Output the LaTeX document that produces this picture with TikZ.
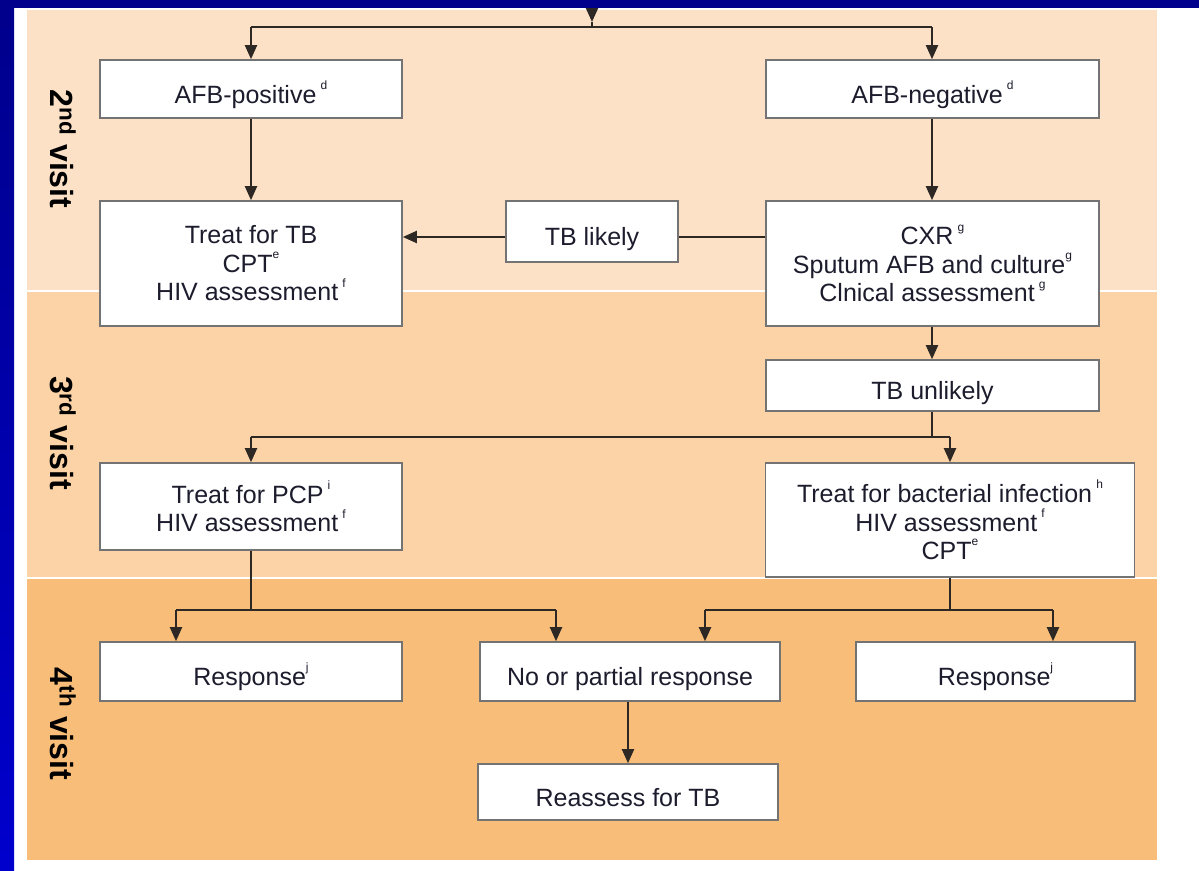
\documentclass[tikz,border=0pt]{standalone}
\usepackage{fontspec}
\setmainfont{Liberation Sans}
\usetikzlibrary{arrows.meta}
\definecolor{navy}{RGB}{0,0,140}
\definecolor{blueside}{RGB}{0,0,205}
\definecolor{bandA}{RGB}{252,225,198}
\definecolor{bandB}{RGB}{251,211,167}
\definecolor{bandC}{RGB}{248,190,121}
\definecolor{txt}{RGB}{28,28,45}
\definecolor{boxline}{RGB}{115,115,115}
\definecolor{conn}{RGB}{45,40,35}
\newcommand\supmark[1]{\raisebox{0.55em}{\fontsize{12}{12}\selectfont #1}}
\begin{document}
\begin{tikzpicture}[x=1pt,y=-1pt,
  box/.style={draw=boxline, line width=1.6pt, fill=white, inner sep=0pt,
    align=center, text=txt, font=\fontsize{25}{28.5}\selectfont},
  single/.style={text height=28pt, text depth=0pt},
  visit/.style={rotate=-90, text=black, font=\bfseries\fontsize{32}{32}\selectfont},
  conn/.style={draw=conn, line width=2pt},
  arr/.style={conn, -{Triangle[width=12pt,length=14pt]}}]
\useasboundingbox (0,0) rectangle (1199,870);
\fill[white] (0,0) rectangle (1199,870);
\fill[navy] (0,0) rectangle (1199,8);
\shade[top color=navy, bottom color=blueside] (0,8) rectangle (14,870);
\fill[bandA] (27,10) rectangle (1157,290);
\fill[bandB] (27,292) rectangle (1157,577);
\fill[bandC] (27,579) rectangle (1157,860);
% visit labels
\node[visit] (v2) at (63,149) {2\textsuperscript{nd} visit};
\node[visit] (v3) at (63,433) {3\textsuperscript{rd} visit};
\node[visit] (v4) at (63,724) {4\textsuperscript{th} visit};
% boxes
\node[box, single, minimum width=302pt, minimum height=58pt] (afbp) at (251,89) {AFB-positive\,\supmark{d}};
\node[box, single, minimum width=333pt, minimum height=58pt] (afbn) at (932.5,89) {AFB-negative\,\supmark{d}};
\node[box, minimum width=302pt, minimum height=125pt] (ttb) at (251,263.5) {Treat for TB\\CPT\supmark{e}\\HIV assessment\,\supmark{f}};
\node[box, single, minimum width=172pt, minimum height=61pt] (tbl) at (592,231.5) {TB likely};
\node[box, minimum width=333pt, minimum height=125pt] (cxr) at (932.5,263.5) {CXR\,\supmark{g}\\Sputum AFB and culture\supmark{g}\\Clnical assessment\,\supmark{g}};
\node[box, single, minimum width=333pt, minimum height=51pt] (tbu) at (932.5,385.5) {TB unlikely};
\node[box, minimum width=302pt, minimum height=87pt] (pcp) at (251,506.5) {Treat for PCP\,\supmark{i}\\HIV assessment\,\supmark{f}};
\node[box, minimum width=369pt, minimum height=114pt] (bac) at (950,520) {Treat for bacterial infection\,\supmark{h}\\HIV assessment\,\supmark{f}\\CPT\supmark{e}};
\node[box, single, minimum width=302pt, minimum height=59pt] (resl) at (251,671.5) {Response\supmark{j}};
\node[box, single, minimum width=300pt, minimum height=59pt] (nop) at (630,671.5) {No or partial response};
\node[box, single, minimum width=279pt, minimum height=59pt] (resr) at (995.5,671.5) {Response\supmark{j}};
\node[box, single, minimum width=300pt, minimum height=56pt] (rea) at (628,792) {Reassess for TB};
% connector coordinates
\coordinate (top) at (592,8);
\coordinate (tip) at (592,22);
\coordinate (j1) at (592,27);
\coordinate (h1l) at (251,27);
\coordinate (h1r) at (932,27);
\coordinate (ly) at (0,237);
\coordinate (j2) at (932,437);
\coordinate (h2l) at (251,437);
\coordinate (h2r) at (950,437);
\coordinate (j3) at (251,610);
\coordinate (h3l) at (176,610);
\coordinate (h3r) at (556,610);
\coordinate (j4) at (950,610);
\coordinate (h4l) at (705,610);
\coordinate (h4r) at (1053,610);
% connectors
\draw[arr] (top) -- (tip);
\draw[conn] (tip) -- (j1);
\draw[conn] (h1l) -- (h1r);
\draw[arr] (h1l) -- (afbp.north -| h1l);
\draw[arr] (h1r) -- (afbn.north -| h1r);
\draw[arr] (afbp.south) -- (ttb.north);
\draw[arr] (afbn.south -| h1r) -- (cxr.north -| h1r);
\draw[conn] (cxr.west |- ly) -- (tbl.east |- ly);
\draw[arr] (tbl.west |- ly) -- (ttb.east |- ly);
\draw[arr] (cxr.south -| j2) -- (tbu.north -| j2);
\draw[conn] (tbu.south -| j2) -- (j2);
\draw[conn] (h2l) -- (h2r);
\draw[arr] (h2l) -- (pcp.north -| h2l);
\draw[arr] (h2r) -- (bac.north -| h2r);
\draw[conn] (pcp.south) -- (j3);
\draw[conn] (h3l) -- (h3r);
\draw[arr] (h3l) -- (resl.north -| h3l);
\draw[arr] (h3r) -- (nop.north -| h3r);
\draw[conn] (bac.south) -- (j4);
\draw[conn] (h4l) -- (h4r);
\draw[arr] (h4l) -- (nop.north -| h4l);
\draw[arr] (h4r) -- (resr.north -| h4r);
\draw[arr] (nop.south -| rea.north) -- (rea.north);
\end{tikzpicture}
\end{document}
